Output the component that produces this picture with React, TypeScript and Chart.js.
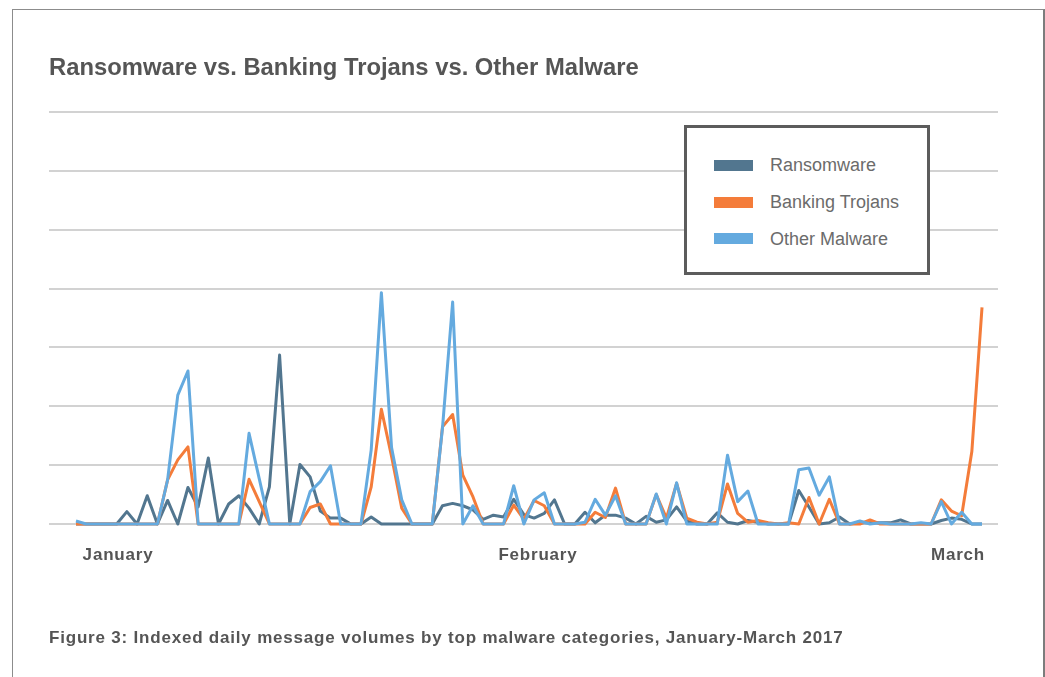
import React, { useEffect, useRef } from "react";
import { Chart, registerables } from "chart.js";

Chart.register(...registerables);

// Indexed daily message volumes, one value per day (90 days, Jan–Mar 2017)
const ransomware = [
  0, 0, 0, 0, 0, 0.21, 0, 0.48, 0, 0.4,
  0, 0.62, 0.29, 1.12, 0, 0.34, 0.48, 0.27, 0, 0.63,
  2.87, 0, 1.01, 0.8, 0.22, 0.1, 0.1, 0, 0, 0.12,
  0, 0, 0, 0, 0, 0, 0.31, 0.35, 0.31, 0.24,
  0.08, 0.15, 0.12, 0.42, 0.16, 0.1, 0.18, 0.41, 0, 0,
  0.2, 0.02, 0.15, 0.15, 0.1, 0, 0.13, 0.03, 0.07, 0.29,
  0.05, 0, 0, 0.19, 0.03, 0, 0.06, 0.03, 0, 0,
  0, 0.57, 0.29, 0, 0.02, 0.12, 0, 0.02, 0.02, 0.02,
  0.02, 0.07, 0, 0, 0, 0.06, 0.1, 0.08, 0, 0,
];

const bankingTrojans = [
  0, 0, 0, 0, 0, 0, 0, 0, 0, 0.75,
  1.09, 1.31, 0, 0, 0, 0, 0, 0.76, 0.38, 0,
  0, 0, 0, 0.28, 0.34, 0, 0, 0, 0, 0.63,
  1.95, 1.15, 0.27, 0, 0, 0, 1.65, 1.86, 0.83, 0.46,
  0, 0, 0, 0.32, 0.08, 0.4, 0.31, 0, 0, 0,
  0, 0.2, 0.11, 0.61, 0, 0, 0, 0.5, 0.1, 0.69,
  0.1, 0.03, 0, 0.03, 0.68, 0.18, 0.03, 0.06, 0.02, 0,
  0.02, 0, 0.45, 0, 0.42, 0, 0, 0, 0.07, 0,
  0, 0, 0, 0, 0, 0.41, 0.22, 0.14, 1.23, 3.68,
];

const otherMalware = [
  0.05, 0, 0, 0, 0, 0, 0, 0, 0, 0.75,
  2.19, 2.6, 0, 0, 0, 0, 0, 1.54, 0.77, 0,
  0, 0, 0, 0.55, 0.72, 0.99, 0, 0, 0, 1.26,
  3.93, 1.3, 0.41, 0, 0, 0, 1.63, 3.77, 0, 0.31,
  0, 0, 0, 0.65, 0, 0.41, 0.53, 0, 0, 0,
  0.03, 0.42, 0.15, 0.48, 0, 0, 0, 0.51, 0, 0.7,
  0, 0, 0, 0, 1.17, 0.38, 0.56, 0, 0, 0,
  0, 0.92, 0.95, 0.49, 0.8, 0, 0, 0.05, 0, 0.02,
  0, 0, 0, 0.02, 0, 0.38, 0, 0.2, 0, 0,
];

const seriesNames = ["Ransomware", "Banking Trojans", "Other Malware"];
const monthLabels = ["January", "February", "March"];
// day-index positions where the month names sit under the axis
const monthLabelAt = [4.13, 45.38, 86.64];

const seriesColors = ["#52768f", "#f47c3a", "#64aadf"];
const seriesValues = [ransomware, bankingTrojans, otherMalware];
// lower order is painted on top
const seriesOrder = [3, 2, 1];

const FONT = '"Liberation Sans", Arial, Helvetica, sans-serif';

export default function App() {
  const canvasRef = useRef<HTMLCanvasElement | null>(null);

  useEffect(() => {
    const canvas = canvasRef.current;
    if (!canvas) return;

    const labelSpacing = {
      id: "labelSpacing",
      beforeDraw(chart: Chart) {
        (chart.ctx as any).letterSpacing = "0.8px";
      },
    };

    const chart = new Chart(canvas, {
      type: "line",
      data: {
        datasets: seriesNames.map((name, s) => ({
          label: name,
          data: seriesValues[s].map((y, i) => ({ x: i, y })),
          borderColor: seriesColors[s],
          backgroundColor: seriesColors[s],
          borderWidth: 3,
          borderJoinStyle: "round",
          pointRadius: 0,
          pointHoverRadius: 0,
          tension: 0,
          fill: false,
          clip: false as any,
          order: seriesOrder[s],
        })),
      },
      options: {
        animation: false,
        responsive: false,
        devicePixelRatio: 1,
        events: [],
        layout: { padding: { top: 112, left: 49, right: 47, bottom: 113 } },
        plugins: {
          legend: { display: false },
          title: { display: false },
          tooltip: { enabled: false },
        },
        scales: {
          x: {
            type: "linear",
            min: -2.65,
            max: 90.57,
            grid: { display: false, drawTicks: false },
            border: { display: false },
            afterBuildTicks: (axis: any) => {
              axis.ticks = monthLabelAt.map((v) => ({ value: v }));
            },
            afterFit: (axis: any) => {
              axis.height = 40;
            },
            ticks: {
              autoSkip: false,
              maxRotation: 0,
              minRotation: 0,
              padding: 21,
              color: "#555555",
              font: { family: FONT, size: 17, weight: "bold" },
              callback: (_v: any, i: number) => monthLabels[i],
            },
          },
          y: {
            min: 0,
            max: 7,
            ticks: { display: false, stepSize: 1 },
            grid: { color: "#d2d2d2", lineWidth: 2, drawTicks: false },
            border: { display: false },
            afterFit: (axis: any) => {
              axis.width = 0;
            },
          },
        },
      },
      plugins: [labelSpacing],
    } as any);

    return () => chart.destroy();
  }, []);

  const legendRows = [165, 202, 238.5];

  return (
    <div
      style={{
        position: "absolute",
        left: 0,
        top: 0,
        width: 1045,
        height: 677,
        overflow: "hidden",
        background: "#ffffff",
        fontFamily: FONT,
      }}
    >
      <div
        style={{
          position: "absolute",
          left: 12,
          top: 9,
          width: 1030,
          height: 720,
          borderTop: "1px solid #8c8c8c",
          borderLeft: "1px solid #8c8c8c",
          borderRight: "2px solid #7c7c7c",
        }}
      />
      <canvas
        ref={canvasRef}
        width={1045}
        height={677}
        style={{ position: "absolute", left: 0, top: 0, width: 1045, height: 677 }}
      />
      <div
        style={{
          position: "absolute",
          left: 49,
          top: 55,
          fontSize: 23.8,
          lineHeight: "24px",
          fontWeight: "bold",
          color: "#555555",
          whiteSpace: "nowrap",
        }}
      >
        Ransomware vs. Banking Trojans vs. Other Malware
      </div>
      <div
        style={{
          position: "absolute",
          left: 684,
          top: 125,
          width: 240,
          height: 144,
          border: "3px solid #5c5c5c",
          background: "#ffffff",
        }}
      />
      {seriesNames.map((name, s) => (
        <React.Fragment key={name}>
          <div
            style={{
              position: "absolute",
              left: 714,
              top: legendRows[s] - 5.5,
              width: 39,
              height: 11,
              background: seriesColors[s],
            }}
          />
          <div
            style={{
              position: "absolute",
              left: 770,
              top: legendRows[s] - 9,
              fontSize: 18,
              lineHeight: "18px",
              color: "#6b6b6b",
              whiteSpace: "nowrap",
            }}
          >
            {name}
          </div>
        </React.Fragment>
      ))}
      <div
        style={{
          position: "absolute",
          left: 49,
          top: 629,
          fontSize: 17,
          lineHeight: "17px",
          letterSpacing: "0.8px",
          fontWeight: "bold",
          color: "#555555",
          whiteSpace: "nowrap",
        }}
      >
        Figure 3: Indexed daily message volumes by top malware categories, January-March 2017
      </div>
    </div>
  );
}
